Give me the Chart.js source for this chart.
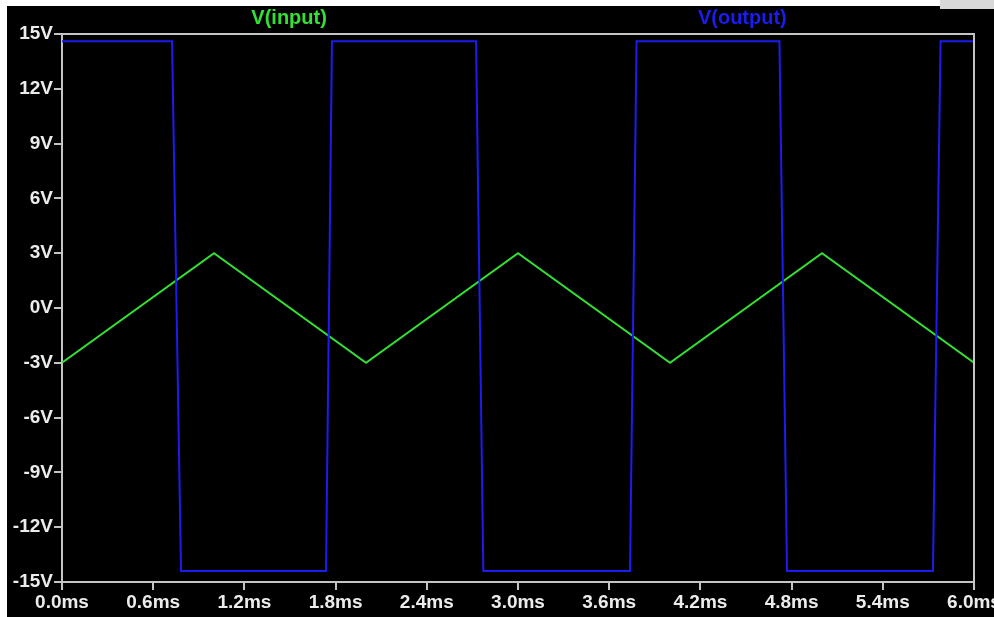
<!DOCTYPE html>
<html>
<head>
<meta charset="utf-8">
<script src="https://cdn.jsdelivr.net/npm/chart.js@4/dist/chart.umd.min.js"></script>
<style>
  html, body { margin: 0; padding: 0; background: #ffffff; width: 994px; height: 617px; overflow: hidden; }
  #wrap { position: absolute; left: 7px; top: 6px; width: 987px; height: 611px; background: #000000; }
  #corner { position: absolute; left: 940px; top: 0; width: 54px; height: 9px; background: #d8d8d8; }
  canvas { display: block; }
</style>
</head>
<body>
<div id="wrap"><canvas id="c" width="987" height="611"></canvas></div>
<div id="corner"></div>
<script>
// ---- data ----
const inputTimeMs = [0, 1, 2, 3, 4, 5, 6];
const inputVolts  = [-3, 3, -3, 3, -3, 3, -3];

const outputTimeMs = [0, 0.724, 0.783, 1.737, 1.776, 2.724, 2.772, 3.737, 3.78, 4.72, 4.77, 5.73, 5.78, 6.0];
const outputVolts  = [14.6, 14.6, -14.4, -14.4, 14.6, 14.6, -14.4, -14.4, 14.6, 14.6, -14.4, -14.4, 14.6, 14.6];

const xTickValues = [0, 0.6, 1.2, 1.8, 2.4, 3.0, 3.6, 4.2, 4.8, 5.4, 6.0];
const yTickValues = [-15, -12, -9, -6, -3, 0, 3, 6, 9, 12, 15];

const seriesNames = ['V(input)', 'V(output)'];

// ---- chart ----
const toPoints = (xs, ys) => xs.map((x, i) => ({ x: x, y: ys[i] }));

const frameColor = '#c4c4c4';
const labelColor = '#ececec';
const labelFont = { family: '"Liberation Sans", Arial, sans-serif', size: 19, weight: 'bold' };

const framePlugin = {
  id: 'frame',
  afterDatasetsDraw(chart) {
    const { ctx, chartArea: a } = chart;
    ctx.save();
    ctx.strokeStyle = frameColor;
    ctx.lineWidth = 2;
    ctx.beginPath();
    ctx.moveTo(a.left, a.top);
    ctx.lineTo(a.right, a.top);
    ctx.lineTo(a.right, a.bottom);
    ctx.stroke();
    ctx.restore();
  }
};

const legendTextPlugin = {
  id: 'legendText',
  afterDraw(chart) {
    const { ctx, chartArea: a } = chart;
    ctx.save();
    ctx.font = 'bold 20px "Liberation Sans", Arial, sans-serif';
    ctx.textAlign = 'center';
    ctx.textBaseline = 'middle';
    const fr = [0.249, 0.746];
    chart.data.datasets.forEach((ds, i) => {
      ctx.fillStyle = ds.borderColor;
      ctx.fillText(ds.label, a.left + (a.right - a.left) * fr[i], 12);
    });
    ctx.restore();
  }
};

new Chart(document.getElementById('c'), {
  type: 'line',
  data: {
    datasets: [
      {
        label: seriesNames[0],
        data: toPoints(inputTimeMs, inputVolts),
        borderColor: '#33e033',
        borderWidth: 2,
        pointRadius: 0,
        tension: 0,
        order: 1
      },
      {
        label: seriesNames[1],
        data: toPoints(outputTimeMs, outputVolts),
        borderColor: '#1c1cf0',
        borderWidth: 2,
        pointRadius: 0,
        tension: 0,
        order: 0
      }
    ]
  },
  options: {
    responsive: false,
    animation: false,
    parsing: false,
    layout: { autoPadding: false, padding: { top: 28, right: 20, bottom: 0, left: 0 } },
    plugins: { legend: { display: false }, tooltip: { enabled: false } },
    scales: {
      x: {
        type: 'linear',
        min: 0,
        max: 6,
        afterBuildTicks: s => { s.ticks = xTickValues.map(v => ({ value: v })); },
        afterFit: s => { s.height = 35; s.paddingLeft = 0; s.paddingRight = 0; },
        ticks: {
          color: labelColor,
          font: labelFont,
          padding: 1,
          maxRotation: 0,
          autoSkip: false,
          callback: v => v.toFixed(1) + 'ms'
        },
        grid: { drawOnChartArea: false, drawTicks: true, tickLength: 8, color: frameColor, lineWidth: 2 },
        border: { display: true, color: frameColor, width: 2 }
      },
      y: {
        type: 'linear',
        min: -15,
        max: 15,
        afterBuildTicks: s => { s.ticks = yTickValues.map(v => ({ value: v })); },
        afterFit: s => { s.width = 55; s.paddingTop = 0; s.paddingBottom = 0; },
        ticks: {
          color: labelColor,
          font: labelFont,
          padding: 1,
          autoSkip: false,
          callback: v => v + 'V'
        },
        grid: { drawOnChartArea: false, drawTicks: true, tickLength: 8, color: frameColor, lineWidth: 2 },
        border: { display: true, color: frameColor, width: 2 }
      }
    }
  },
  plugins: [framePlugin, legendTextPlugin]
});
</script>
</body>
</html>
